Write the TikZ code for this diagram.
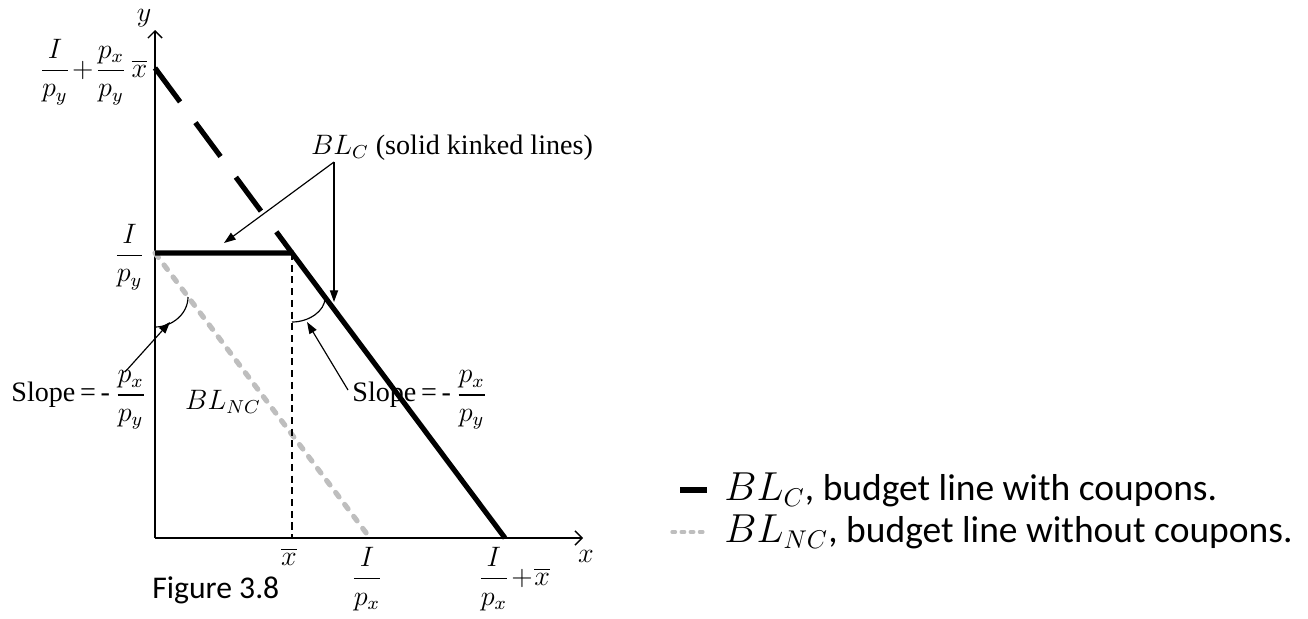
\documentclass[tikz,border=0pt]{standalone}
\usepackage{amsmath}
\usepackage{fontspec}
\setmainfont{Liberation Serif}
\newfontfamily\calibri{Carlito}
\usetikzlibrary{arrows.meta,positioning,calc}
\definecolor{ncgray}{RGB}{190,190,190}

\begin{document}
\begin{tikzpicture}[x=0.015cm,y=-0.015cm,
  axis/.style={line width=0.6pt,-{Straight Barb[length=3pt,width=6pt]}},
  kinked/.style={line width=2.2pt},
  coupon/.style={line width=2.2pt,dash pattern=on 18pt off 11pt},
  nocoupon/.style={ncgray,line width=2.2pt,line cap=round,dash pattern=on 2.4pt off 4pt},
  guide/.style={line width=0.5pt,dash pattern=on 3pt off 2pt},
  pointer/.style={line width=0.5pt,-{Triangle[length=5pt,width=3.5pt]}},
  lbl/.style={inner sep=1pt,font=\fontsize{12}{14}\selectfont},
  legend/.style={anchor=west,inner sep=0pt,font=\calibri\fontsize{16}{19}\selectfont}]
\useasboundingbox (0,0) rectangle (1308,618);
% axes and key points
\coordinate (O) at (155,538);
\coordinate (ytop) at (155,30);
\coordinate (xend) at (583,538);
\coordinate (top) at (155,68);
\coordinate (Iy) at (155,253);
\coordinate (kink) at (292,253);
\coordinate (xbar) at (292,538);
\coordinate (Ipx) at (370,538);
\coordinate (xint) at (505,538);
\draw[axis] (O)--(ytop);
\draw[axis] (O)--(xend);
% budget lines
\draw[coupon] (top)--(kink);
\draw[nocoupon] (Iy)--(Ipx);
\draw[kinked,line join=miter] (Iy)--(kink)--(xint);
\draw[guide] (kink)--(xbar);
% axis labels
\node[lbl] (ylab) at (144,18) {$y$};
\node[lbl,anchor=east] (toplab) at (150,72) {$\dfrac{I}{p_y}\!+\!\dfrac{p_x}{p_y}\,\overline{x}$};
\node[lbl,anchor=east] (Iylab) at (148,257) {$\dfrac{I}{p_y}$};
\node[lbl] (xbarlab) at (289,557) {$\overline{x}$};
\node[lbl] (Ipxlab) at (367,579) {$\dfrac{I}{p_x}$};
\node[lbl] (xintlab) at (514,579) {$\dfrac{I}{p_x}\!+\!\overline{x}$};
\node[lbl] (xlab) at (586,556) {$x$};
% annotations
\node[lbl] (bllab) at (452,148) {$BL_C$ (solid kinked lines)};
\coordinate (split) at (334,162);
\coordinate (flatpt) at (224,243);
\coordinate (steeppt) at (334,302);
\draw[pointer] (split)--(flatpt);
\draw[pointer] (split)--(steeppt);
\node[lbl] (bnclab) at (223,402) {$BL_{NC}$};
\node[lbl] (slopeL) at (79,400) {Slope\,=\,-\,$\dfrac{p_x}{p_y}$};
\node[lbl] (slopeR) at (420,400) {Slope\,=\,-\,$\dfrac{p_x}{p_y}$};
\draw[line width=0.5pt] (155,327) .. controls (172,327) and (188,314) .. (188,297);
\draw[line width=0.5pt] (292,322) .. controls (309,322) and (325,311) .. (325,298);
\coordinate (tailL) at (125,372);
\coordinate (headL) at (170,322);
\coordinate (tailR) at (348,390);
\coordinate (headR) at (307,322);
\draw[pointer] (tailL)--(headL);
\draw[pointer] (tailR)--(headR);
\node[anchor=west,inner sep=0pt,font=\calibri\fontsize{13.5}{16}\selectfont] (fig) at (152,590) {Figure 3.8};
% legend
\draw[kinked] (680,490)--(707,490);
\node[legend] (legC) at (724,490) {$BL_C$, budget line with coupons.};
\draw[nocoupon,line width=1.4pt,dash pattern=on 1.5pt off 2.4pt] (672,532)--(708,532);
\node[legend] (legNC) at (724,532) {$BL_{NC}$, budget line without coupons.};
\end{tikzpicture}
\end{document}
